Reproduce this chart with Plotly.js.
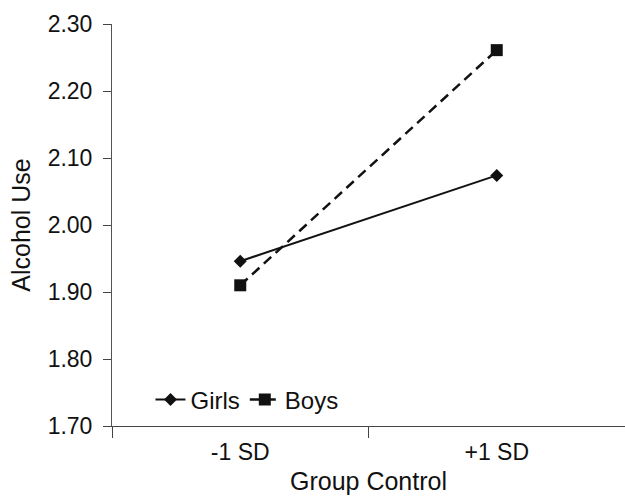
<!DOCTYPE html>
<html>
<head>
<meta charset="utf-8">
<script src="https://cdn.plot.ly/plotly-3.0.1.min.js"></script>
<style>html,body{margin:0;padding:0;background:#fff;}#chart{width:625px;height:499px;}</style>
</head>
<body>
<div id="chart"></div>
<script>
var categories = ["-1 SD", "+1 SD"];
var girls = [1.946, 2.074];
var boys = [1.910, 2.261];
var yTicks = [1.70, 1.80, 1.90, 2.00, 2.10, 2.20, 2.30];

var font = "Liberation Sans, Arial, Helvetica, sans-serif";

var traces = [
  {
    x: categories, y: girls, name: "Girls", type: "scatter", mode: "lines+markers",
    line: {color: "#111", width: 2},
    marker: {symbol: "diamond", size: 10, color: "#111"}
  },
  {
    x: categories, y: boys, name: "Boys", type: "scatter", mode: "lines+markers",
    line: {color: "#111", width: 2.5, dash: "10px,6px"},
    marker: {symbol: "square", size: 12, color: "#111"}
  }
];

var layout = {
  width: 625, height: 499,
  margin: {l: 112, r: 0, t: 24, b: 73},
  paper_bgcolor: "#fff", plot_bgcolor: "#fff",
  font: {family: font, color: "#111", size: 23},
  showlegend: true,
  legend: {
    orientation: "h", x: 0.075, y: 0.065, xanchor: "left", yanchor: "middle",
    bgcolor: "rgba(0,0,0,0)", font: {size: 24, family: font, color: "#111"},
    traceorder: "normal"
  },
  xaxis: {
    type: "category", range: [-0.5, 1.5],
    showline: true, linecolor: "#444", linewidth: 1,
    showgrid: false, zeroline: false,
    ticks: "outside", tickson: "boundaries", ticklen: 11, tickcolor: "#444", tickwidth: 1,
    ticklabelstandoff: 5,
    tickfont: {size: 23, family: font, color: "#111"},
    title: {text: "Group Control", font: {size: 25, family: font, color: "#111"}, standoff: 8},
    fixedrange: true
  },
  yaxis: {
    range: [1.70, 2.30], tickvals: yTicks, tickformat: ".2f",
    showline: true, linecolor: "#555", linewidth: 1,
    showgrid: false, zeroline: false,
    ticks: "outside", ticklen: 8, tickcolor: "#444", tickwidth: 1,
    ticklabelstandoff: 6,
    tickfont: {size: 23, family: font, color: "#111"},
    title: {text: "Alcohol Use", font: {size: 25, family: font, color: "#111"}, standoff: 9},
    fixedrange: true
  }
};

Plotly.newPlot("chart", traces, layout, {displayModeBar: false, staticPlot: true});
</script>
</body>
</html>
